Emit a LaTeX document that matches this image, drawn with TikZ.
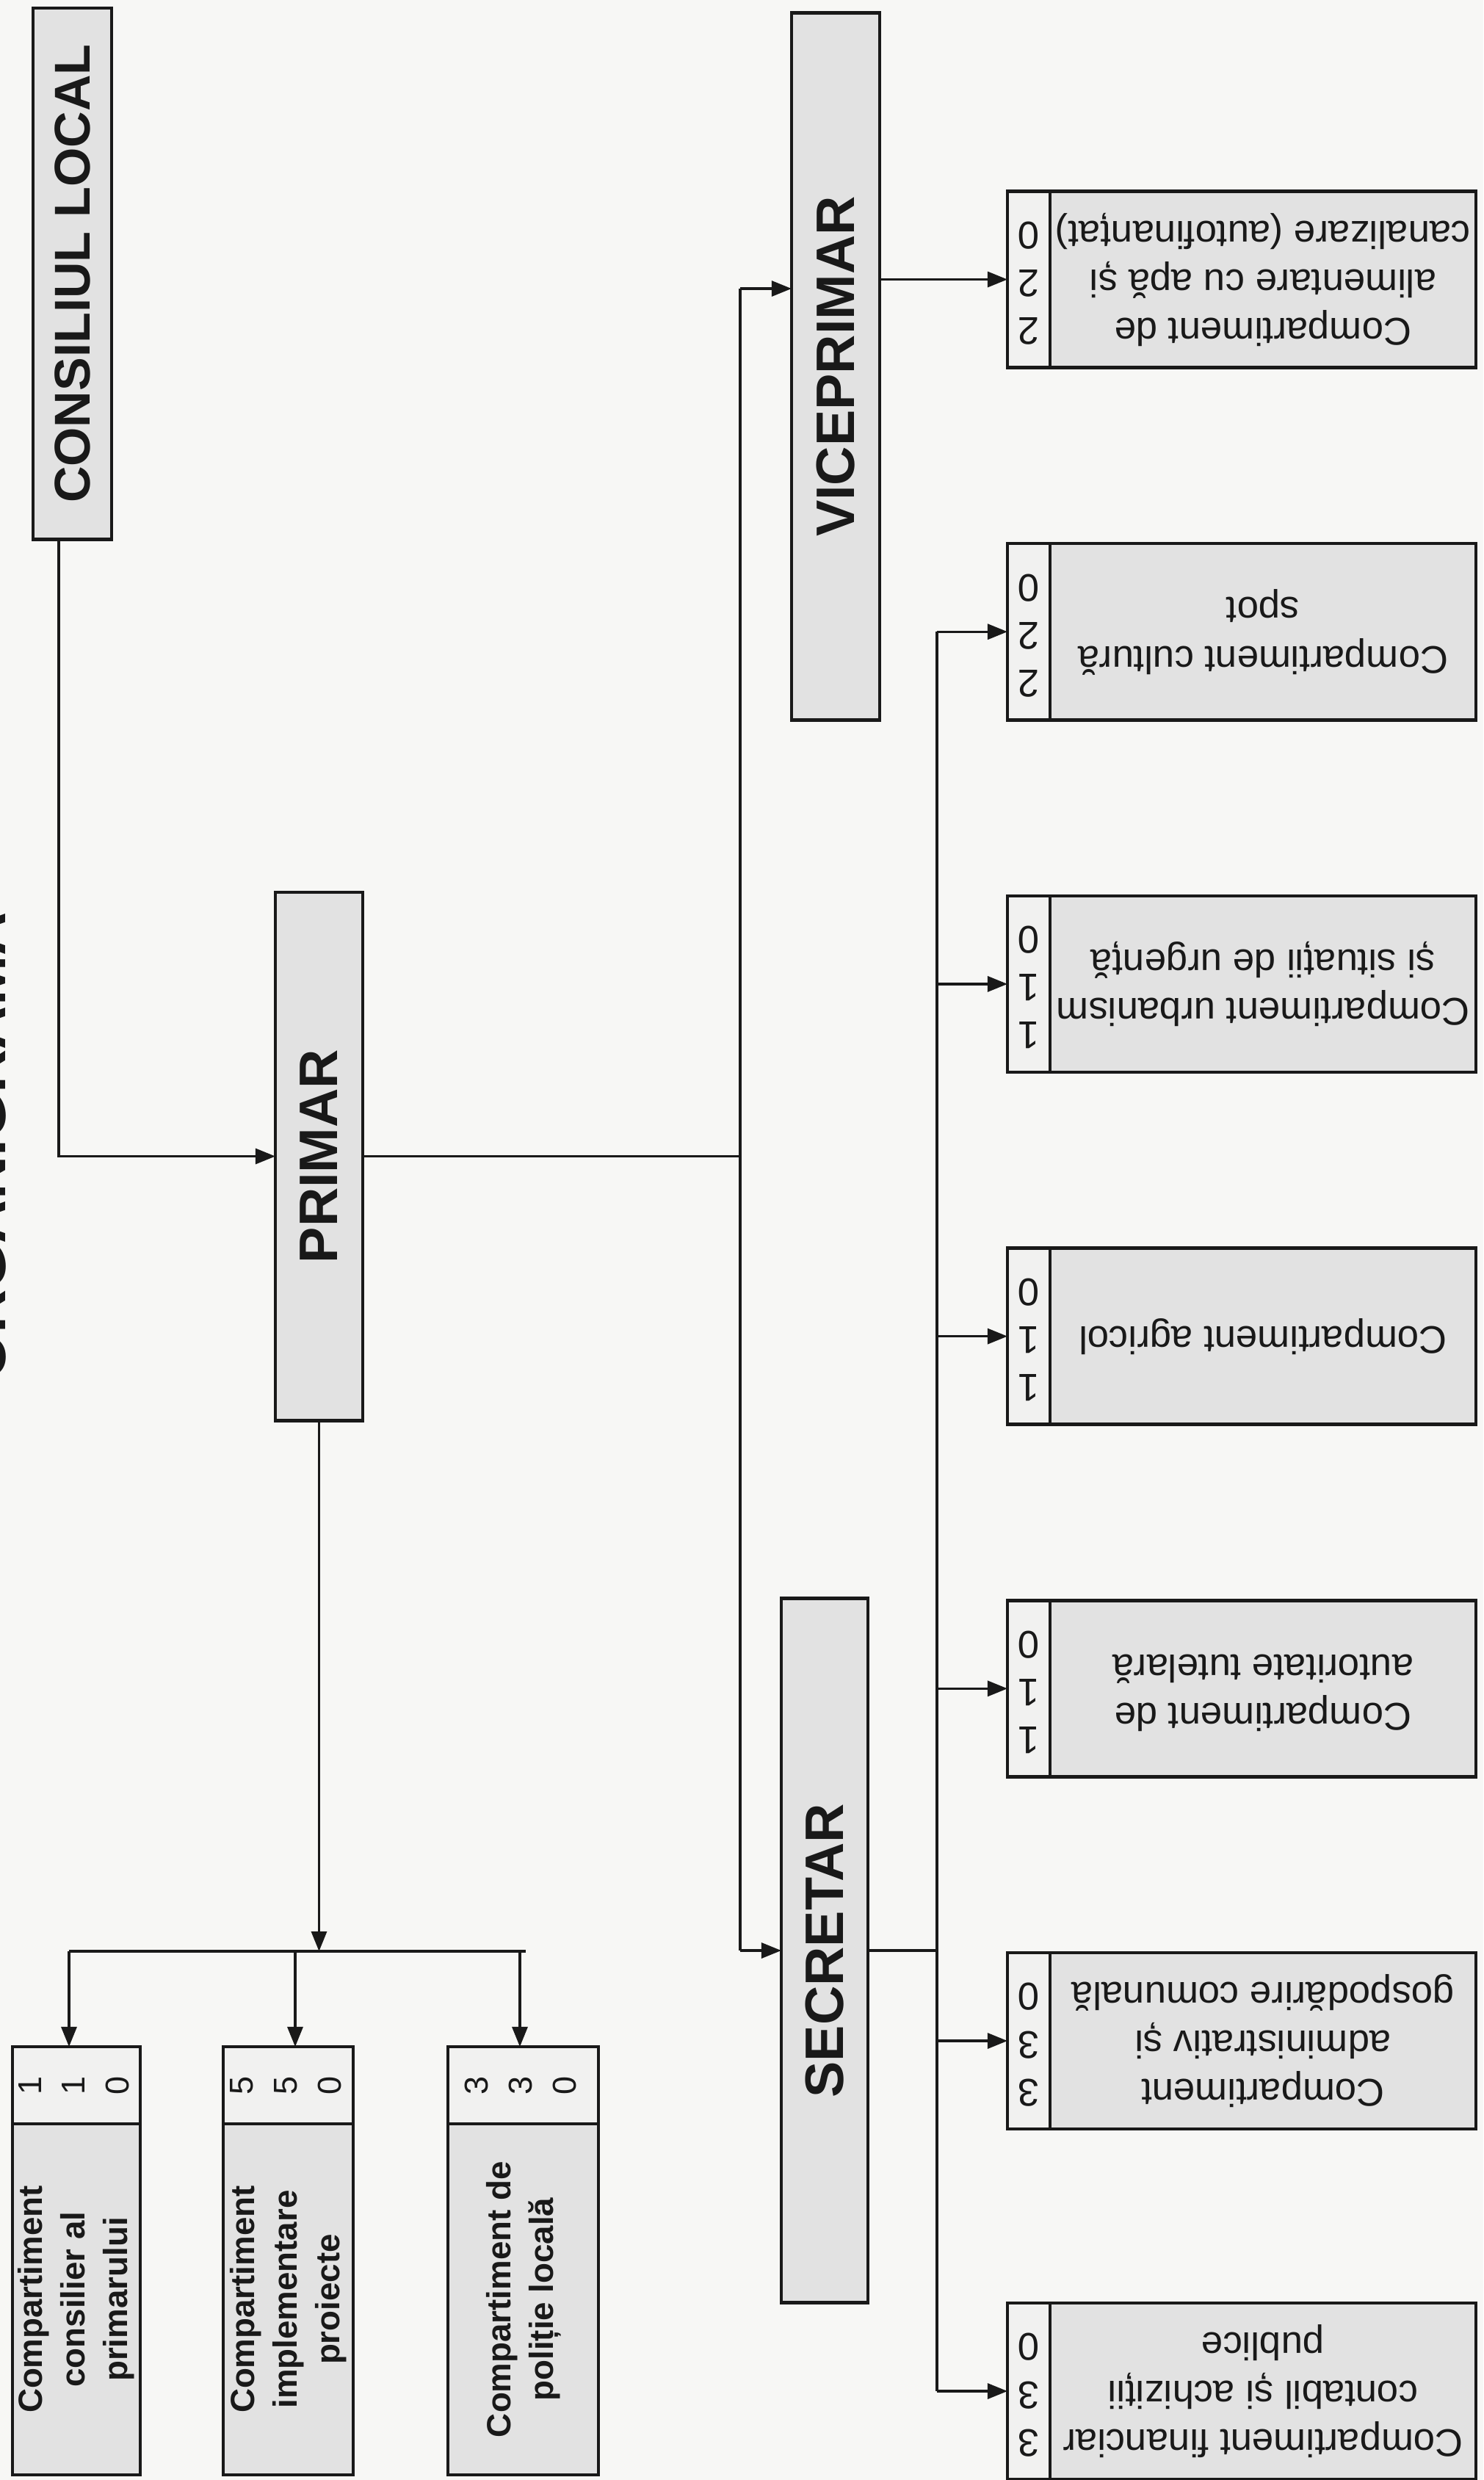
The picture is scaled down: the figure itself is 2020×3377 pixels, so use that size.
\documentclass[tikz,border=0pt]{standalone}
\usepackage{fontspec}
\setmainfont{Liberation Sans}
\usepackage{graphicx}
\usetikzlibrary{arrows.meta,calc}
\definecolor{paper}{RGB}{247,247,245}
\definecolor{boxgray}{RGB}{226,226,226}
\definecolor{numfill}{RGB}{241,241,240}
\definecolor{ink}{RGB}{25,25,25}
\newcommand{\RotT}[2]{\rotatebox{#1}{\begin{tabular}{@{}c@{}}#2\end{tabular}}}
\newcommand{\RBox}[4]{%
  \node[numbox, minimum width=0.58cm, minimum height=2.4cm] (d#1) at (1401,#2) {};
  \node[graybox, minimum width=5.8cm, minimum height=2.4cm] (r#1) at (1720,#2) {};
  \node[rnum] (d#1t) at (d#1.center) {\RotT{180}{#3}};
  \node[rtxt] (r#1t) at (r#1.center) {\RotT{180}{#4}};
}
\begin{document}
\begin{tikzpicture}[x=0.01cm,y=-0.01cm,
  boxframe/.style={draw=ink, line width=1.3pt, inner sep=0pt, outer sep=0pt},
  graybox/.style={boxframe, fill=boxgray},
  numbox/.style={boxframe, fill=numfill},
  bigtxt/.style={inner sep=0pt, text=ink, font=\bfseries\fontsize{21}{25}\selectfont},
  subtxt/.style={inner sep=0pt, text=ink, font=\bfseries\fontsize{13}{16.5}\selectfont},
  subnum/.style={inner sep=0pt, text=ink, font=\fontsize{12.8}{17}\selectfont},
  rtxt/.style={inner sep=0pt, text=ink, font=\fontsize{15}{18.8}\selectfont},
  rnum/.style={inner sep=0pt, text=ink, font=\fontsize{15}{18.5}\selectfont},
  conn/.style={draw=ink, line width=0.9pt},
  arr/.style={conn, -{Triangle[length=0.27cm,width=0.21cm]}},
]
\useasboundingbox (0,0) rectangle (2020,3377);
\fill[paper] (0,0) rectangle (2020,3377);

% title, mostly outside the page at the left edge (only the letter feet show)
\begin{scope}
  \clip (0,0) rectangle (2020,3377);
  \node[rotate=90, anchor=base, inner sep=0pt, text=ink,
        font=\bfseries\fontsize{23.3}{28}\selectfont] (title) at (8,1561) {ORGANIGRAMA};
\end{scope}

% main boxes
\node[graybox, minimum width=1.07cm, minimum height=7.23cm] (cl) at (98.5,372.5) {};
\node[bigtxt, font=\bfseries\fontsize{19.5}{24}\selectfont] (clt) at (cl.center) {\rotatebox{90}{CONSILIUL LOCAL}};
\node[graybox, minimum width=1.19cm, minimum height=7.19cm] (primar) at (434.5,1574.5) {};
\node[bigtxt] (primart) at (primar.center) {\rotatebox{90}{PRIMAR}};
\node[graybox, minimum width=1.20cm, minimum height=9.62cm] (vice) at (1138,499) {};
\node[bigtxt] (vicet) at (vice.center) {\rotatebox{90}{VICEPRIMAR}};
\node[graybox, minimum width=1.18cm, minimum height=9.58cm] (secr) at (1123,2656) {};
\node[bigtxt] (secrt) at (secr.center) {\rotatebox{90}{SECRETAR}};

% left compartments
\node[numbox, minimum width=1.74cm, minimum height=1.05cm] (l1n) at (104,2839.5) {};
\node[graybox, minimum width=1.74cm, minimum height=4.78cm] (l1) at (104,3131) {};
\node[subnum] (l1nt) at (l1n.center) {\RotT{90}{1\\1\\0}};
\node[subtxt] (l1t) at (l1.center) {\RotT{90}{Compartiment\\consilier al\\primarului}};

\node[numbox, minimum width=1.77cm, minimum height=1.05cm] (l2n) at (392.5,2839.5) {};
\node[graybox, minimum width=1.77cm, minimum height=4.78cm] (l2) at (392.5,3131) {};
\node[subnum] (l2nt) at (l2n.center) {\RotT{90}{5\\5\\0}};
\node[subtxt] (l2t) at (l2.center) {\RotT{90}{Compartiment\\implementare\\proiecte}};

\node[numbox, minimum width=2.05cm, minimum height=1.05cm] (l3n) at (712.5,2839.5) {};
\node[graybox, minimum width=2.05cm, minimum height=4.78cm] (l3) at (712.5,3131) {};
\node[subnum] (l3nt) at (l3n.center) {\RotT{90}{3\\3\\0}};
\node[subtxt] (l3t) at (l3.center) {\RotT{90}{Compartiment de\\poliție locală}};

% right compartments
\RBox{1}{380.5}{2\\2\\0}{Compartiment de\\alimentare cu apă și\\canalizare (autofinanțat)}
\RBox{2}{860.2}{2\\2\\0}{Compartiment cultură\\spot}
\RBox{3}{1339.9}{1\\1\\0}{Compartiment urbanism\\și situații de urgență}
\RBox{4}{1819.6}{1\\1\\0}{Compartiment agricol}
\RBox{5}{2299.3}{1\\1\\0}{Compartiment de\\autoritate tutelară}
\RBox{6}{2779}{3\\3\\0}{Compartiment\\administrativ și\\gospodărire comunală}
\RBox{7}{3256}{3\\3\\0}{Compartiment financiar\\contabil și achiziții\\publice}

% connectors
\coordinate (clx) at (80,0);
\draw[arr] (cl.south -| clx) |- (primar.west);

\coordinate (trunk) at (1008,0);
\coordinate (vy) at (0,393);
\draw[conn] (primar.east) -- (primar.east -| trunk);
\draw[conn] (trunk |- vy) -- (trunk |- secr.west);
\draw[arr] (trunk |- vy) -- (vice.west |- vy);
\draw[arr] (trunk |- secr.west) -- (secr.west);

\draw[arr] (vice.east |- d1.west) -- (d1.west);

\coordinate (rl) at (1276,0);
\draw[conn] (secr.east) -- (secr.east -| rl);
\draw[conn] (rl |- d2.west) -- (rl |- d7.west);
\foreach \i in {2,...,7} \draw[arr] (rl |- d\i.west) -- (d\i.west);

\coordinate (bar) at (0,2657);
\coordinate (b1) at (94,2657);
\coordinate (b2) at (402,2657);
\coordinate (b3) at (708,2657);
\draw[arr] (primar.south) -- (primar.south |- bar);
\draw[conn] (b1) -- ($(b3)+(8,0)$);
\draw[arr] (b1) -- (b1 |- l1n.north);
\draw[arr] (b2) -- (b2 |- l2n.north);
\draw[arr] (b3) -- (b3 |- l3n.north);
\end{tikzpicture}
\end{document}
